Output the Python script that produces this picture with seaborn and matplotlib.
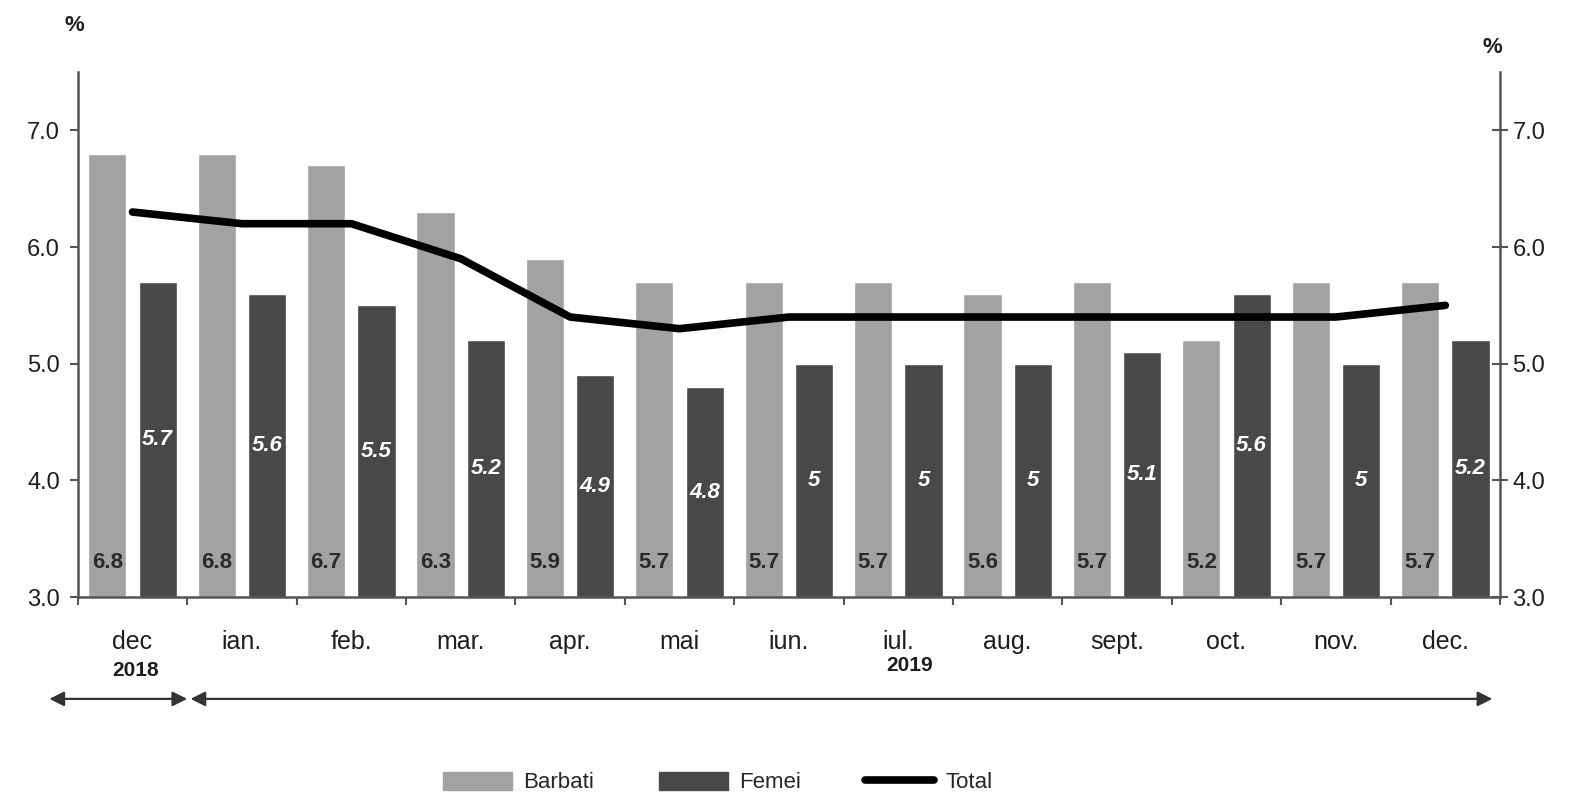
import matplotlib

matplotlib.use("Agg")
import matplotlib.pyplot as plt
import matplotlib.transforms as mtransforms
from matplotlib.lines import Line2D
from matplotlib.patches import Patch
import numpy as np
import pandas as pd
import seaborn as sns

months = ["dec", "ian.", "feb.", "mar.", "apr.", "mai", "iun.", "iul.",
          "aug.", "sept.", "oct.", "nov.", "dec."]
barbati = [6.8, 6.8, 6.7, 6.3, 5.9, 5.7, 5.7, 5.7, 5.6, 5.7, 5.2, 5.7, 5.7]
femei = [5.7, 5.6, 5.5, 5.2, 4.9, 4.8, 5.0, 5.0, 5.0, 5.1, 5.6, 5.0, 5.2]
total = [6.3, 6.2, 6.2, 5.9, 5.4, 5.3, 5.4, 5.4, 5.4, 5.4, 5.4, 5.4, 5.5]
yticks = [3.0, 4.0, 5.0, 6.0, 7.0]

C_B = "#a2a2a2"
C_F = "#484848"
INK = "#1e1e1e"

df = pd.DataFrame({
    "month": months * 2,
    "sex": ["Barbati"] * len(months) + ["Femei"] * len(months),
    "value": barbati + femei,
})

sns.set_theme(style="white")
plt.rcParams["font.family"] = ["Liberation Sans", "DejaVu Sans"]

fig = plt.figure(figsize=(15.88, 7.96), dpi=100)
ax = fig.add_axes([0.049, 0.25, 0.8956, 0.6595])

sns.barplot(data=df, x="month", y="value", hue="sex",
            palette={"Barbati": C_B, "Femei": C_F}, width=0.92, gap=0.24,
            saturation=1, legend=False, ax=ax)
sns.pointplot(x=months, y=total, color="black", markers="", linestyles="-",
              linewidth=5.5, errorbar=None, ax=ax, zorder=5)

# value labels
for bar, v in zip(ax.containers[0], barbati):
    ax.text(bar.get_x() + bar.get_width() / 2, 3.3, f"{v:g}", ha="center",
            va="center", fontsize=16, fontweight="bold", color="#2a2a2a", zorder=6)
for bar, v in zip(ax.containers[1], femei):
    ax.text(bar.get_x() + bar.get_width() / 2, (3.0 + v) / 2, f"{v:g}",
            ha="center", va="center", fontsize=16, fontstyle="italic",
            fontweight="bold", color="white", zorder=6)

ax.set_ylim(3.0, 7.5)
ax.set_xlim(-0.5, len(months) - 0.5)
ax.set_yticks(yticks)
ax.set_yticklabels([f"{t:.1f}" for t in yticks])
ax.set_xlabel("")
ax.set_ylabel("")

for s in ["top", "right"]:
    ax.spines[s].set_visible(False)
for s in ["left", "bottom"]:
    ax.spines[s].set_color("#555555")
    ax.spines[s].set_linewidth(1.8)

ax.tick_params(axis="y", which="major", left=True, length=6, width=1.5,
               color="#555555", labelsize=17, labelcolor=INK, pad=7)
ax.tick_params(axis="x", which="major", length=0, labelsize=18,
               labelcolor=INK, pad=24)
ax.set_xticks(np.arange(len(months) + 1) - 0.5, minor=True)
ax.tick_params(axis="x", which="minor", bottom=True, length=6, width=1.5,
               color="#555555")

ax2 = ax.twinx()
ax2.set_ylim(ax.get_ylim())
ax2.set_yticks(yticks)
ax2.set_yticklabels([f"{t:.1f}" for t in yticks])
ax2.grid(False)
for s in ["top", "left", "bottom"]:
    ax2.spines[s].set_visible(False)
ax2.spines["right"].set_color("#555555")
ax2.spines["right"].set_linewidth(1.8)
ax2.tick_params(axis="y", right=True, direction="inout", length=12, width=1.5,
                color="#555555", labelsize=17, labelcolor=INK, pad=3)

fig.text(0.047, 0.968, "%", fontsize=16, fontweight="bold", color=INK,
         ha="center", va="center")
fig.text(0.9395, 0.94, "%", fontsize=16, fontweight="bold", color=INK,
         ha="center", va="center")

# year spans
trans = mtransforms.blended_transform_factory(ax.transData, fig.transFigure)
arrow_kw = dict(arrowstyle="<|-|>", color="#333333", lw=1.6, mutation_scale=22,
                shrinkA=0, shrinkB=0)
ax.annotate("", xy=(0.5, 0.122), xytext=(-0.76, 0.122), xycoords=trans,
            textcoords=trans, arrowprops=arrow_kw, annotation_clip=False)
ax.annotate("", xy=(12.43, 0.122), xytext=(0.53, 0.122), xycoords=trans,
            textcoords=trans, arrowprops=arrow_kw, annotation_clip=False)
ax.text(0.03, 0.158, "2018", transform=trans, ha="center", va="center",
        fontsize=15, fontweight="bold", color=INK)
ax.text(7.1, 0.164, "2019", transform=trans, ha="center", va="center",
        fontsize=15, fontweight="bold", color=INK)

handles = [Patch(facecolor=C_B, edgecolor=C_B, label="Barbati"),
           Patch(facecolor=C_F, edgecolor=C_F, label="Femei"),
           Line2D([0], [0], color="black", lw=5.5, solid_capstyle="round",
                  label="Total")]
fig.legend(handles=handles, loc="center", bbox_to_anchor=(0.452, 0.017),
           ncol=3, frameon=False, fontsize=16, handlelength=3.1,
           handleheight=0.9, columnspacing=2.9, handletextpad=0.5)

fig.savefig("out.png", dpi=100)
